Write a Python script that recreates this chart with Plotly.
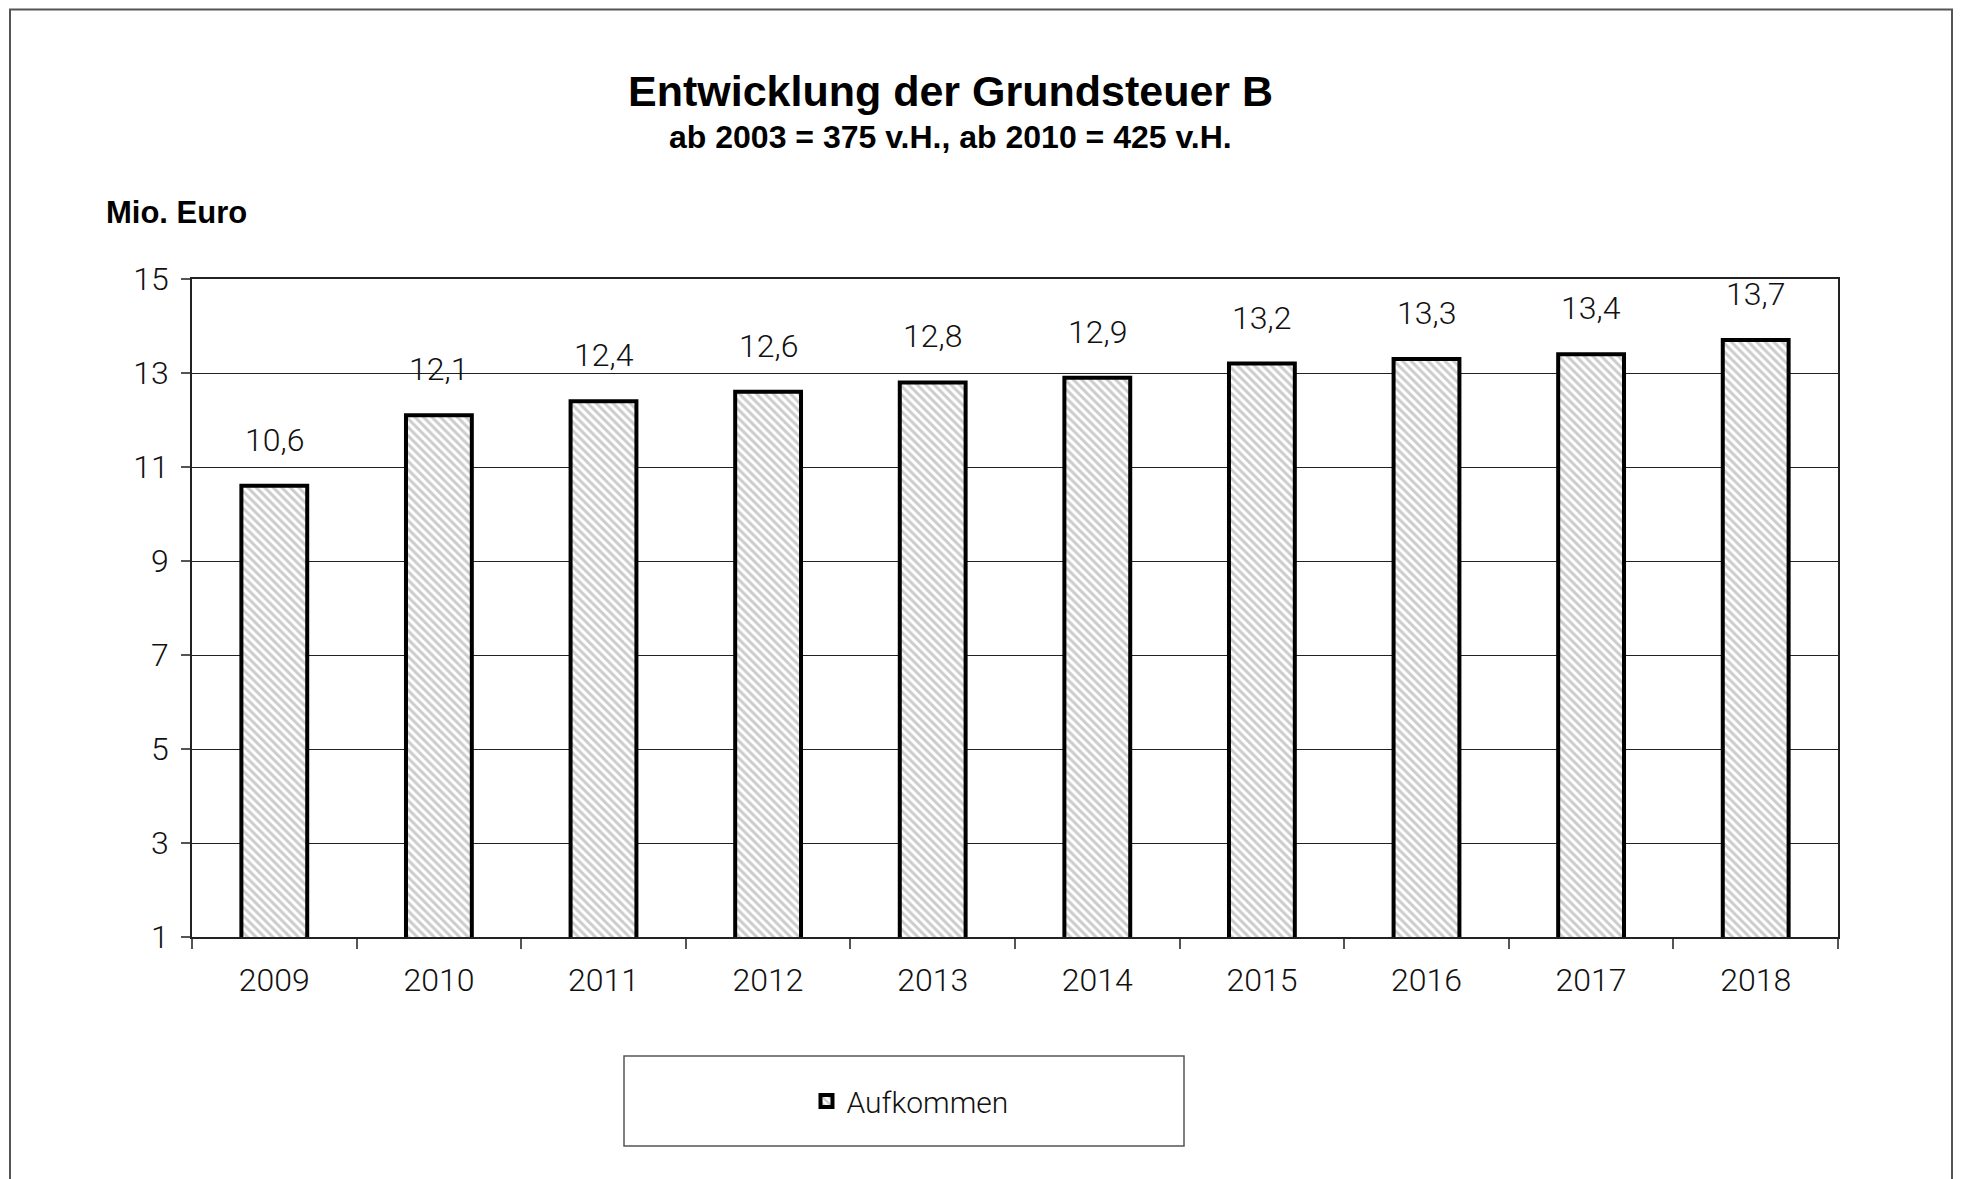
import plotly.graph_objects as go

years = ["2009", "2010", "2011", "2012", "2013", "2014", "2015", "2016", "2017", "2018"]
aufkommen = [10.6, 12.1, 12.4, 12.6, 12.8, 12.9, 13.2, 13.3, 13.4, 13.7]
y_ticks = [1, 3, 5, 7, 9, 11, 13, 15]

title = "Entwicklung der Grundsteuer B"
subtitle = "ab 2003 = 375 v.H., ab 2010 = 425 v.H."
y_unit = "Mio. Euro"
series_name = "Aufkommen"

W, H = 1961, 1179
OFF = 8  # page body margin
L, R, T, B = 192, 1838, 279, 937
pw, ph = R - L, B - T

def px_x(p):
    return (p - L) / pw

def px_y(p):
    return (B - p) / ph

FONT = "Roboto, Liberation Sans, Arial, sans-serif"
BOLD = "Liberation Sans, Arial, sans-serif"

fig = go.Figure()
fig.add_trace(go.Bar(
    x=years, y=aufkommen, name=series_name, width=0.4,
    marker=dict(
        color="white",
        line=dict(color="black", width=4),
        pattern=dict(shape="\\", fgcolor="#9a9a9a", bgcolor="white", size=6, solidity=0.5),
    ),
    showlegend=True,
))

annotations = []
for i, yv in enumerate(aufkommen):
    annotations.append(dict(
        x=i, y=yv, xref="x", yref="y", text=f"{yv:.1f}".replace(".", ","),
        showarrow=False, yanchor="bottom", yshift=25,
        font=dict(family=FONT, size=32, color="#111", weight=300),
    ))

annotations += [
    dict(x=px_x(950), y=px_y(91), xref="paper", yref="paper", text=f"<b>{title}</b>",
         showarrow=False, xanchor="center", yanchor="middle",
         font=dict(family=BOLD, size=43, color="black")),
    dict(x=px_x(950), y=px_y(137), xref="paper", yref="paper", text=f"<b>{subtitle}</b>",
         showarrow=False, xanchor="center", yanchor="middle",
         font=dict(family=BOLD, size=32, color="black")),
    dict(x=px_x(104), y=px_y(212), xref="paper", yref="paper", text=f"<b>{y_unit}</b>",
         showarrow=False, xanchor="left", yanchor="middle",
         font=dict(family=BOLD, size=31, color="black")),
]

shapes = [
    dict(type="rect", xref="paper", yref="paper",
         x0=px_x(10), x1=px_x(1952), y0=px_y(1195), y1=px_y(9.5),
         line=dict(color="#555", width=2), fillcolor="rgba(0,0,0,0)", layer="below"),
    dict(type="rect", xref="paper", yref="paper",
         x0=px_x(624), x1=px_x(1184), y0=px_y(1146), y1=px_y(1056),
         line=dict(color="#555", width=1.5), fillcolor="rgba(0,0,0,0)"),
]

fig.update_layout(
    width=W, height=H,
    margin=dict(l=L - OFF, r=W - (R - OFF), t=T - OFF, b=H - (B - OFF), pad=0),
    paper_bgcolor="white", plot_bgcolor="white",
    font=dict(family=FONT, size=32, color="#111", weight=300),
    annotations=annotations, shapes=shapes,
    showlegend=True,
    legend=dict(x=px_x(910), y=px_y(1101), xanchor="center", yanchor="middle",
                orientation="h", bgcolor="rgba(0,0,0,0)", borderwidth=0,
                font=dict(family=FONT, size=30, color="#111", weight=300)),
    bargap=0.6,
)

fig.update_xaxes(
    type="category", showline=True, linecolor="#222", linewidth=1.5, mirror=True,
    ticks="outside", tickson="boundaries", ticklen=10, tickcolor="#555", tickwidth=1.5,
    showgrid=False, ticklabelstandoff=14, tickangle=0,
    tickfont=dict(family=FONT, size=32, color="#111", weight=300),
)
fig.update_yaxes(
    range=[1, 15], tickvals=y_ticks, showline=True, linecolor="#222", linewidth=1.5, mirror=True,
    ticks="outside", ticklen=9, tickcolor="#555", tickwidth=1.5,
    showgrid=True, gridcolor="#222", gridwidth=1.2, zeroline=False, ticklabelstandoff=6,
    tickfont=dict(family=FONT, size=32, color="#111", weight=300),
)

fig.write_html("out.html")
